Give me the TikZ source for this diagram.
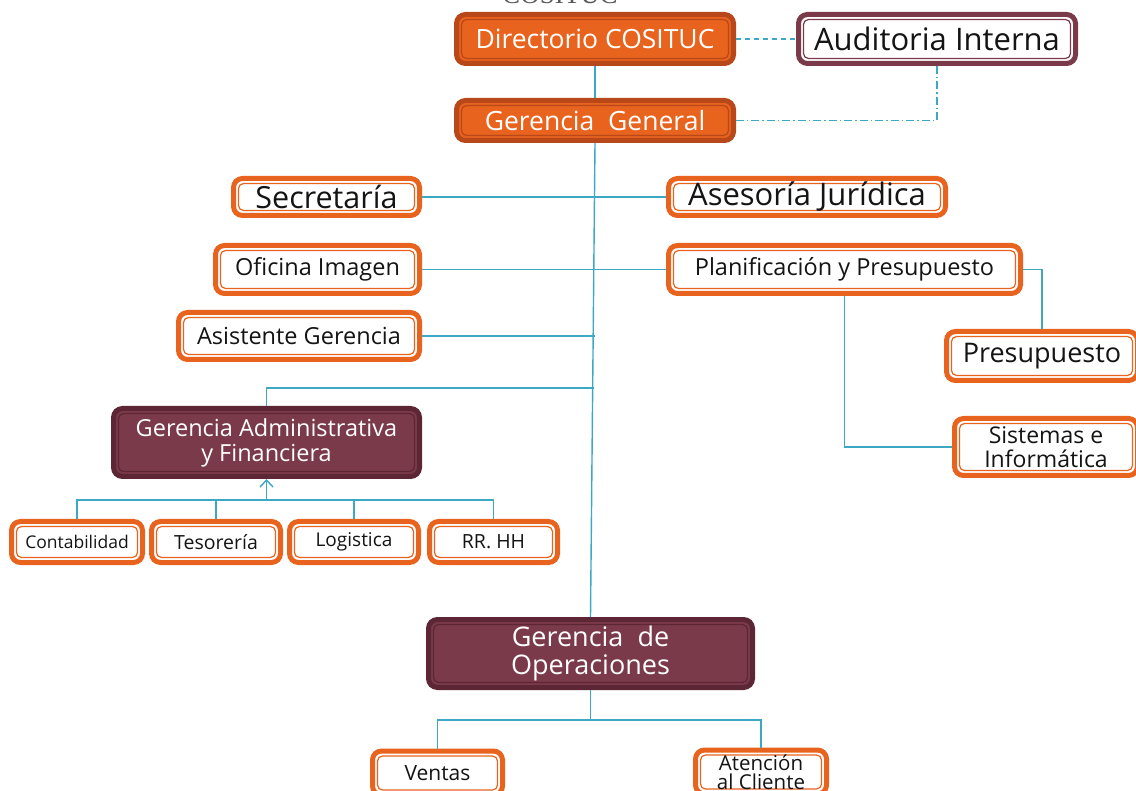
\documentclass[tikz,border=0pt]{standalone}
\usepackage{fontspec}
\setmainfont{Open Sans}
\newfontfamily\capserif{Liberation Serif}
\usetikzlibrary{arrows.meta}
\definecolor{org}{HTML}{E8631E}
\definecolor{orgd}{HTML}{B8481A}
\definecolor{mar}{HTML}{7B3A4A}
\definecolor{mard}{HTML}{5C2634}
\definecolor{lnk}{HTML}{3DA8C4}
\definecolor{txt}{HTML}{141414}
\newcommand{\fs}[1]{\fontsize{#1pt}{\the\dimexpr#1pt*23/20\relax}\selectfont}
\tikzset{
  inner/.style={path picture={\draw[#1, line width=1.2pt, rounded corners=5pt]
      ([shift={(5pt,-5pt)}]path picture bounding box.north west) rectangle
      ([shift={(-5pt,5pt)}]path picture bounding box.south east);}},
  base/.style={rounded corners=9pt, line width=5pt, inner sep=0pt, align=center},
  wbox/.style={base, draw=org, fill=white, text=txt, inner=org},
  obox/.style={base, draw=orgd, fill=org, text=white, inner=orgd},
  mbox/.style={base, draw=mard, fill=mar, text=white, inner=mard},
  abox/.style={base, draw=mar, fill=white, text=txt, inner=mar},
  conn/.style={draw=lnk, line width=1.4pt},
}
\begin{document}
\begin{tikzpicture}[x=1pt,y=-1pt]
\useasboundingbox (0,0) rectangle (1136,791);
\node[text=black!65, anchor=base, font=\capserif\fs{27}] (title) at (560,4) {COSITUC};

\node[obox, minimum width=277, minimum height=49, font=\fs{26.5}] (dir) at (595,39) {Directorio COSITUC};
\node[abox, minimum width=277, minimum height=49, font=\fs{31}] (aud) at (937,39) {Auditoria Interna};
\node[obox, minimum width=277, minimum height=40, font=\fs{26.5}] (gg) at (595,120.5) {Gerencia\ \ General};

\node[wbox, minimum width=186, minimum height=37, font=\fs{30.5}] (sec) at (326.5,197) {Secretaría};
\node[wbox, minimum width=277, minimum height=37, font=\fs{31}] (ase) at (807,197) {Asesoría Jurídica};
\node[wbox, minimum width=204, minimum height=48, font=\fs{23.5}] (ofi) at (317.5,269.5) {Oficina Imagen};
\node[wbox, minimum width=352, minimum height=48, font=\fs{23.5}] (pla) at (844.5,269.5) {Planificación y Presupuesto};
\node[wbox, minimum width=241, minimum height=47, font=\fs{23.5}] (asi) at (299,336) {Asistente Gerencia};
\node[wbox, minimum width=191, minimum height=49, font=\fs{27}] (pre) at (1042,356) {Presupuesto};
\node[wbox, minimum width=183, minimum height=57, font=\fs{23}] (sis) at (1046,447) {Sistemas e\\[-3pt]Informática};

\node[mbox, minimum width=306, minimum height=68, font=\fs{23.5}] (gaf) at (266.5,442.5) {Gerencia Administrativa\\[-2pt]y Financiera};
\node[wbox, minimum width=131, minimum height=41, font=\fs{17.5}] (con) at (77,542) {Contabilidad};
\node[wbox, minimum width=129, minimum height=41, font=\fs{19.5}] (tes) at (216,542) {Tesorería};
\node[wbox, minimum width=129, minimum height=41, font=\fs{19}] (log) at (354,542) {Logistica};
\node[wbox, minimum width=128, minimum height=41, font=\fs{19.5}] (rrh) at (493.5,542) {RR. HH};

\node[mbox, minimum width=324, minimum height=68, font=\fs{27}] (gop) at (590.5,653.5) {Gerencia\ \ de\\[-3pt]Operaciones};
\node[wbox, minimum width=130, minimum height=44, font=\fs{21}] (ven) at (437.5,773) {Ventas};
\node[wbox, minimum width=131, minimum height=44, font=\fs{20.5}] (ate) at (761,772) {Atención\\[-5pt]al Cliente};

% connectors
\draw[conn] (dir.south) -- (gg.north);
\draw[conn] (gg.south) -- (gop.north);
\draw[conn, dash pattern=on 5pt off 4pt] (dir.east) -- (aud.west);
\draw[conn, dash pattern=on 8pt off 3pt on 1.5pt off 3pt] (aud.south) |- (gg.east);
\draw[conn] (sec.east) -- (ase.west);
\draw[conn] (ofi.east) -- (pla.west);
\draw[conn] (asi.east) -- (asi.east -| gg.south);
\coordinate (j1) at (594,388);
\draw[conn] (j1) -| (gaf.north);
\coordinate (bus) at (266.5,500);
\draw[conn, -{Straight Barb[length=7pt,width=13pt,line width=1.4pt]}] (bus) -- (gaf.south);
\draw[conn] (con.north) |- (bus) -| (rrh.north);
\draw[conn] (tes.north) -- (tes.north |- bus);
\draw[conn] (log.north) -- (log.north |- bus);
\draw[conn] (pla.east) -| (pre.north);
\draw[conn] (pla.south) |- (sis.west);
\coordinate (ob) at (590.5,720);
\draw[conn] (gop.south) -- (ob);
\draw[conn] (ven.north) |- (ob) -| (ate.north);
\end{tikzpicture}
\end{document}
